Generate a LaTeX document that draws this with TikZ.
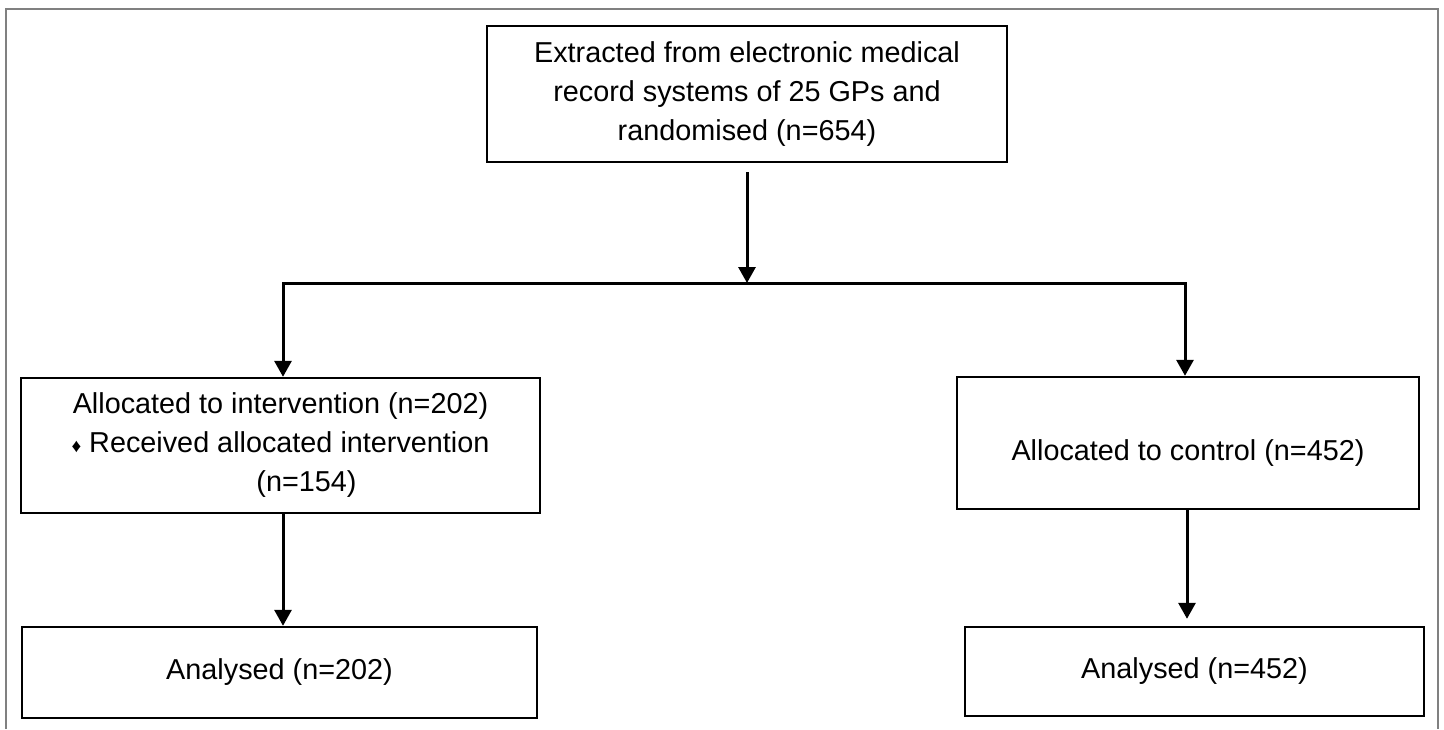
\documentclass[tikz,border=0pt]{standalone}
\usepackage{fontspec}
\setmainfont{Liberation Sans}
\usetikzlibrary{arrows.meta}
\tikzset{
  flowbox/.style={draw, line width=2.4pt, align=center, inner sep=0pt, font=\fontsize{28.8}{39}\selectfont},
  flowarrow/.style={line width=3pt, -{Triangle[width=17pt,length=16pt]}}
}
\begin{document}
\begin{tikzpicture}[x=1pt, y=-1pt]
\useasboundingbox (0,0) rectangle (1444,729);
\draw[gray, line width=2.4pt] (6,729) -- (6,9) -- (1438,9) -- (1438,729); % open frame
\node[flowbox, minimum width=520pt, minimum height=136pt] (extracted) at (747,94) {Extracted from electronic medical\\record systems of 25 GPs and\\randomised (n=654)}; % top box
\node[flowbox, minimum width=519pt, minimum height=135pt] (intervention) at (280.5,445.5) {Allocated to intervention (n=202)\\{\fontsize{19}{19}\selectfont ♦} Received allocated intervention\\\hspace*{52pt}(n=154)}; % left box
\node[flowbox, minimum width=462pt, minimum height=132pt] (control) at (1188,443) {\raisebox{-10pt}[\height][\depth]{Allocated to control (n=452)}}; % right box
\node[flowbox, minimum width=515pt, minimum height=91pt] (analysedint) at (279.5,672.5) {Analysed (n=202)}; % left result
\node[flowbox, minimum width=459pt, minimum height=89pt] (analysedctl) at (1194.5,671.5) {Analysed (n=452)}; % right result
\coordinate (split) at (747,283); % branch point
\coordinate (leftturn) at (283,283); % left corner
\coordinate (rightturn) at (1185,283); % right corner
\draw[flowarrow] ([yshift=-9pt]extracted.south) -- (split); % down to branch
\draw[flowarrow] (split) -- (leftturn) -- (leftturn |- intervention.north); % to intervention
\draw[flowarrow] (split) -- (rightturn) -- (rightturn |- control.north); % to control
\draw[flowarrow] (leftturn |- intervention.south) -- (leftturn |- analysedint.north); % intervention analysed
\draw[flowarrow] ([xshift=-1pt]control.south) -- ([xshift=-1pt, yshift=7pt]control.south |- analysedctl.north); % control analysed
\end{tikzpicture}
\end{document}
